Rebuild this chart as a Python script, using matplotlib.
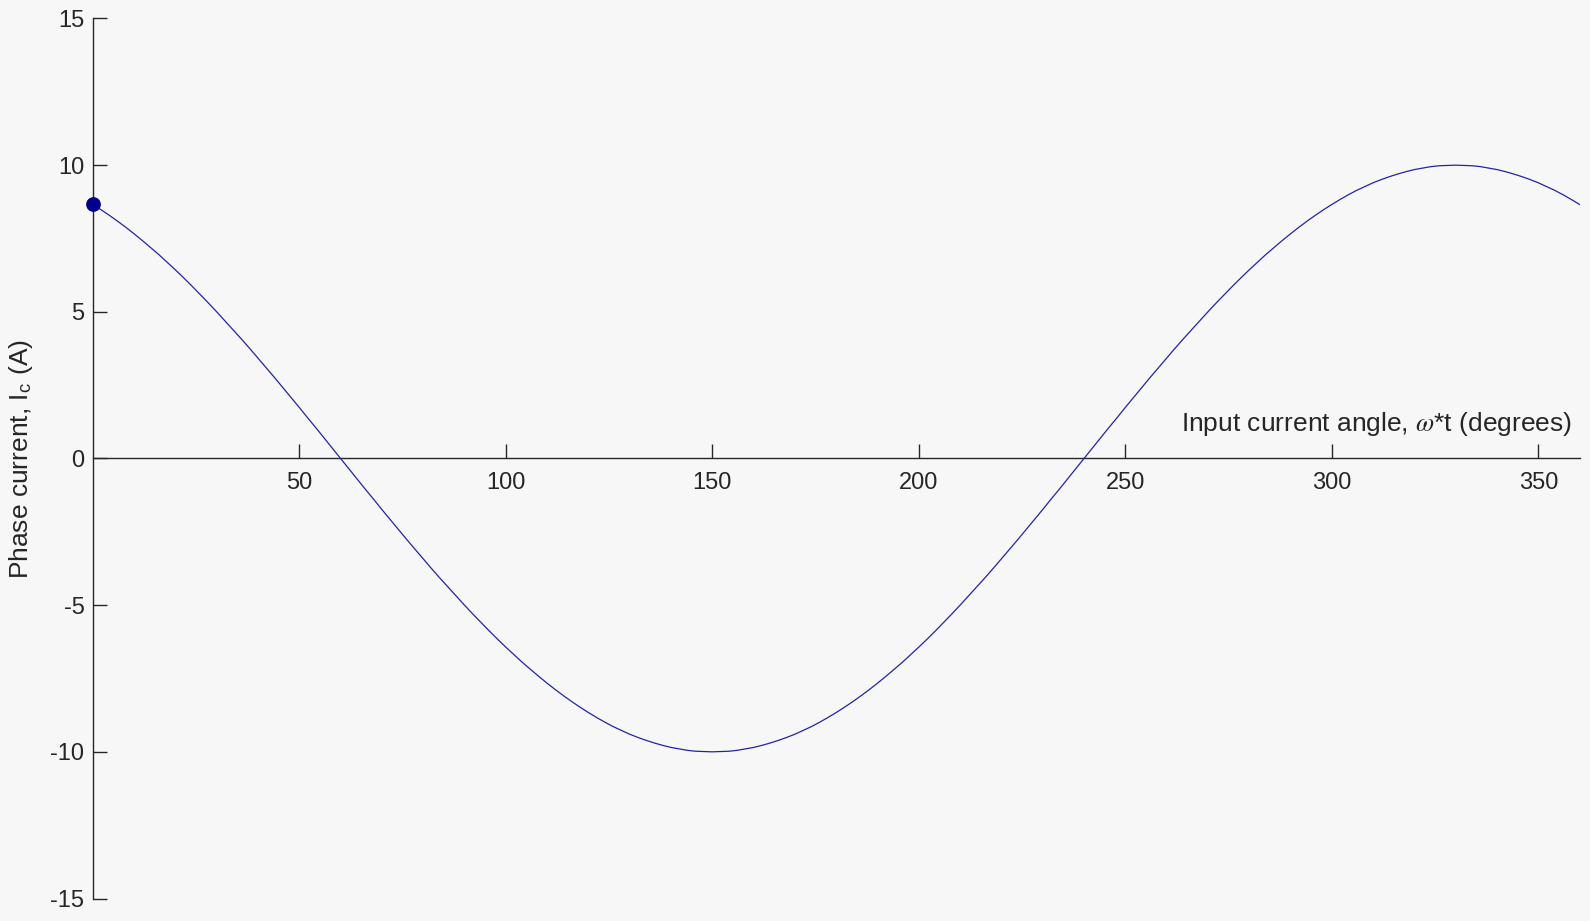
import matplotlib
matplotlib.use("Agg")
import matplotlib.pyplot as plt

# Data (angle in degrees, phase current in A), 2-degree steps
angle_deg = list(range(0, 361, 2))
phase_current = [
    # 0 .. 60
    8.66, 8.48, 8.29, 8.09, 7.88, 7.66, 7.43, 7.19, 6.95, 6.69, 6.43, 6.16, 5.88, 5.59,
    5.30, 5.00, 4.69, 4.38, 4.07, 3.75, 3.42, 3.09, 2.76, 2.42, 2.08, 1.74, 1.39, 1.05,
    0.70, 0.35, 0.00,
    # 62 .. 150
    -0.35, -0.70, -1.05, -1.39, -1.74, -2.08, -2.42, -2.76, -3.09, -3.42, -3.75, -4.07,
    -4.38, -4.69, -5.00, -5.30, -5.59, -5.88, -6.16, -6.43, -6.69, -6.95, -7.19, -7.43,
    -7.66, -7.88, -8.09, -8.29, -8.48, -8.66, -8.83, -8.99, -9.14, -9.27, -9.40, -9.51,
    -9.61, -9.70, -9.78, -9.85, -9.90, -9.95, -9.98, -9.99, -10.00,
    # 152 .. 240
    -9.99, -9.98, -9.95, -9.90, -9.85, -9.78, -9.70, -9.61, -9.51, -9.40, -9.27, -9.14,
    -8.99, -8.83, -8.66, -8.48, -8.29, -8.09, -7.88, -7.66, -7.43, -7.19, -6.95, -6.69,
    -6.43, -6.16, -5.88, -5.59, -5.30, -5.00, -4.69, -4.38, -4.07, -3.75, -3.42, -3.09,
    -2.76, -2.42, -2.08, -1.74, -1.39, -1.05, -0.70, -0.35, 0.00,
    # 242 .. 330
    0.35, 0.70, 1.05, 1.39, 1.74, 2.08, 2.42, 2.76, 3.09, 3.42, 3.75, 4.07, 4.38, 4.69,
    5.00, 5.30, 5.59, 5.88, 6.16, 6.43, 6.69, 6.95, 7.19, 7.43, 7.66, 7.88, 8.09, 8.29,
    8.48, 8.66, 8.83, 8.99, 9.14, 9.27, 9.40, 9.51, 9.61, 9.70, 9.78, 9.85, 9.90, 9.95,
    9.98, 9.99, 10.00,
    # 332 .. 360
    9.99, 9.98, 9.95, 9.90, 9.85, 9.78, 9.70, 9.61, 9.51, 9.40, 9.27, 9.14, 8.99, 8.83,
    8.66,
]
marker_angle = [0]
marker_current = [8.66]
x_ticks = [50, 100, 150, 200, 250, 300, 350]
y_ticks = [-15, -10, -5, 0, 5, 10, 15]

plt.rcParams['font.family'] = ['Liberation Sans', 'DejaVu Sans']
plt.rcParams['mathtext.fontset'] = 'stix'
plt.rcParams['axes.unicode_minus'] = False

bg = '#f7f7f7'
ink = '#262626'
W, H = 1590, 921

fig = plt.figure(figsize=(15.9, 9.21), dpi=100, facecolor=bg)
ax = fig.add_axes([92.8 / W, 1 - 898.5 / H, (1579.6 - 92.8) / W, (898.5 - 18.5) / H])
ax.set_facecolor(bg)

ax.plot(angle_deg, phase_current, color='#2323a8', linewidth=0.9, zorder=3)
ax.plot(marker_angle, marker_current, 'o', color='#00008b', markersize=9.6,
        clip_on=False, zorder=4)

ax.set_xlim(0, 360)
ax.set_ylim(-15, 15)
ax.set_xticks(x_ticks)
ax.set_yticks(y_ticks)

ax.spines['top'].set_visible(False)
ax.spines['right'].set_visible(False)
ax.spines['bottom'].set_position(('data', 0))
for s in ('left', 'bottom'):
    ax.spines[s].set_color(ink)
    ax.spines[s].set_linewidth(1.0)

ax.tick_params(axis='both', direction='in', length=10, width=1.0, color=ink,
               labelcolor=ink, labelsize=17)
ax.tick_params(axis='x', pad=10)
ax.tick_params(axis='y', pad=6)

fig.text(1572 / W, 1 - 431 / H, r'Input current angle, $\omega$*t (degrees)',
         ha='right', va='baseline', fontsize=19, color=ink)
fig.text(28 / W, 1 - 459.5 / H, r'Phase current, I$_{\mathregular{c}}$ (A)',
         ha='center', va='baseline', rotation=90, rotation_mode='anchor',
         fontsize=19, color=ink)

fig.savefig('out.png', dpi=100, facecolor=bg)
